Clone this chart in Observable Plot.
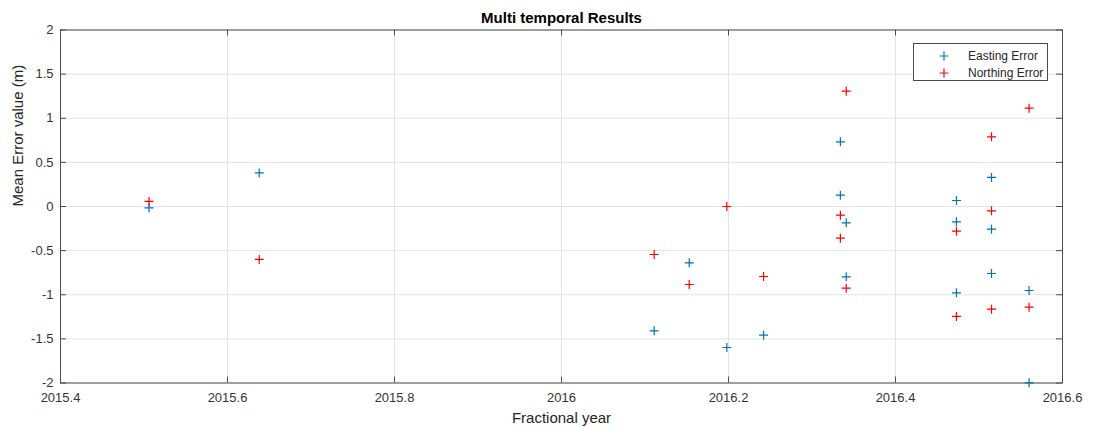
<!DOCTYPE html>
<html>
<head>
<meta charset="utf-8">
<script src="https://cdn.jsdelivr.net/npm/d3@7"></script>
<script src="https://cdn.jsdelivr.net/npm/@observablehq/plot@0.6"></script>
<style>
  html, body { margin: 0; padding: 0; background: #fff; }
  #wrap { position: relative; width: 1094px; height: 427px; font-family: "Liberation Sans", Arial, Helvetica, sans-serif; }
  #legend { position: absolute; left: 913px; top: 43px; width: 135px; height: 38px; border: 1px solid #4a4a4a; background: #fff; box-sizing: border-box; }
  #legend .item { position: absolute; left: 0; height: 17px; display: flex; align-items: center; font-size: 12px; color: #262626; }
  #legend svg { position: absolute; left: 24px; }
  #legend span { position: absolute; left: 54px; white-space: nowrap; }
</style>
</head>
<body>
<div id="wrap"></div>
<script>
// ---- data ----
const titleText = "Multi temporal Results";
const xLabel = "Fractional year";
const yLabel = "Mean Error value (m)";
const seriesNames = ["Easting Error", "Northing Error"];
const seriesColors = ["#0072BD", "#FF0000"];

const eastingX = [2015.506, 2015.638, 2016.111, 2016.153, 2016.198, 2016.242,
  2016.334, 2016.334, 2016.341, 2016.341, 2016.473, 2016.473, 2016.473,
  2016.515, 2016.515, 2016.515, 2016.560, 2016.560];
const eastingY = [-0.015, 0.38, -1.409, -0.638, -1.598, -1.458,
  0.733, 0.128, -0.185, -0.797, 0.068, -0.174, -0.978,
  0.329, -0.257, -0.759, -0.952, -1.998];

const northingX = [2015.506, 2015.638, 2016.111, 2016.153, 2016.198, 2016.242,
  2016.334, 2016.334, 2016.341, 2016.341, 2016.473, 2016.473,
  2016.515, 2016.515, 2016.515, 2016.560, 2016.560];
const northingY = [0.057, -0.60, -0.544, -0.884, 0.0, -0.793,
  -0.098, -0.359, 1.307, -0.925, -0.28, -1.246,
  0.79, -0.049, -1.164, 1.114, -1.141];

const xTicks = [2015.4, 2015.6, 2015.8, 2016, 2016.2, 2016.4, 2016.6];
const yTicks = [-2, -1.5, -1, -0.5, 0, 0.5, 1, 1.5, 2];

// ---- build ----
const points = [
  ...eastingX.map((x, i) => ({x, y: eastingY[i], s: seriesNames[0]})),
  ...northingX.map((x, i) => ({x, y: northingY[i], s: seriesNames[1]}))
];

const plusSymbol = {
  draw(ctx, size) {
    const r = Math.sqrt(size / Math.PI);
    ctx.moveTo(-r, 0); ctx.lineTo(r, 0);
    ctx.moveTo(0, -r); ctx.lineTo(0, r);
  }
};

const W = 1094, H = 427;
const mL = 60, mR = 32, mT = 29.5, mB = 44.5;
const fW = W - mL - mR, fH = H - mT - mB;
const fmt = d => String(+d.toFixed(1));
const axisColor = "#4d4d4d";
const tickLen = 6;

const chart = Plot.plot({
  width: W, height: H,
  marginLeft: mL, marginRight: mR, marginTop: mT, marginBottom: mB,
  style: {fontFamily: '"Liberation Sans", Arial, Helvetica, sans-serif', background: "#fff", color: "#262626"},
  x: {domain: [2015.4, 2016.6]},
  y: {domain: [-2, 2]},
  color: {domain: seriesNames, range: seriesColors},
  marks: [
    Plot.gridX(xTicks, {stroke: "#e3e3e3", strokeOpacity: 1, strokeWidth: 1}),
    Plot.gridY(yTicks, {stroke: "#e3e3e3", strokeOpacity: 1, strokeWidth: 1}),
    // inward ticks on all four sides
    Plot.tickX(xTicks, {x: d => d, insetTop: fH - tickLen, stroke: axisColor}),
    Plot.tickX(xTicks, {x: d => d, insetBottom: fH - tickLen, stroke: axisColor}),
    Plot.tickY(yTicks, {y: d => d, insetRight: fW - tickLen, stroke: axisColor}),
    Plot.tickY(yTicks, {y: d => d, insetLeft: fW - tickLen, stroke: axisColor}),
    Plot.frame({stroke: axisColor, strokeWidth: 1}),
    Plot.axisX(xTicks, {tickSize: 0, tickPadding: 10, tickFormat: fmt, fontSize: 13, label: null, fill: "#333"}),
    Plot.axisY(yTicks, {tickSize: 0, tickPadding: 7, tickFormat: fmt, fontSize: 13, label: null, fill: "#333"}),
    Plot.dot(points, {x: "x", y: "y", stroke: "s", symbol: plusSymbol, r: 4.5, strokeWidth: 1.2, fill: "none"}),
    Plot.text([titleText], {text: d => d, frameAnchor: "top", dy: -11.8, fontSize: 15, fontWeight: "bold", fill: "#000", lineAnchor: "middle"}),
    Plot.text([xLabel], {text: d => d, frameAnchor: "bottom", dy: 35.4, fontSize: 15, fill: "#262626", lineAnchor: "middle"}),
    Plot.text([yLabel], {text: d => d, frameAnchor: "left", dx: -42, rotate: -90, fontSize: 15, fill: "#262626", lineAnchor: "middle"})
  ]
});

const wrap = document.getElementById("wrap");
wrap.appendChild(chart);

// legend overlay
const legend = document.createElement("div");
legend.id = "legend";
seriesNames.forEach((name, i) => {
  const item = document.createElement("div");
  item.className = "item";
  item.style.top = (3 + i * 17) + "px";
  item.style.width = "100%";
  item.innerHTML = `<svg width="12" height="12" viewBox="-6 -6 12 12"><path d="M-4.5,0H4.5M0,-4.5V4.5" stroke="${seriesColors[i]}" stroke-width="1.2" fill="none"/></svg><span>${name}</span>`;
  legend.appendChild(item);
});
wrap.appendChild(legend);
</script>
</body>
</html>
